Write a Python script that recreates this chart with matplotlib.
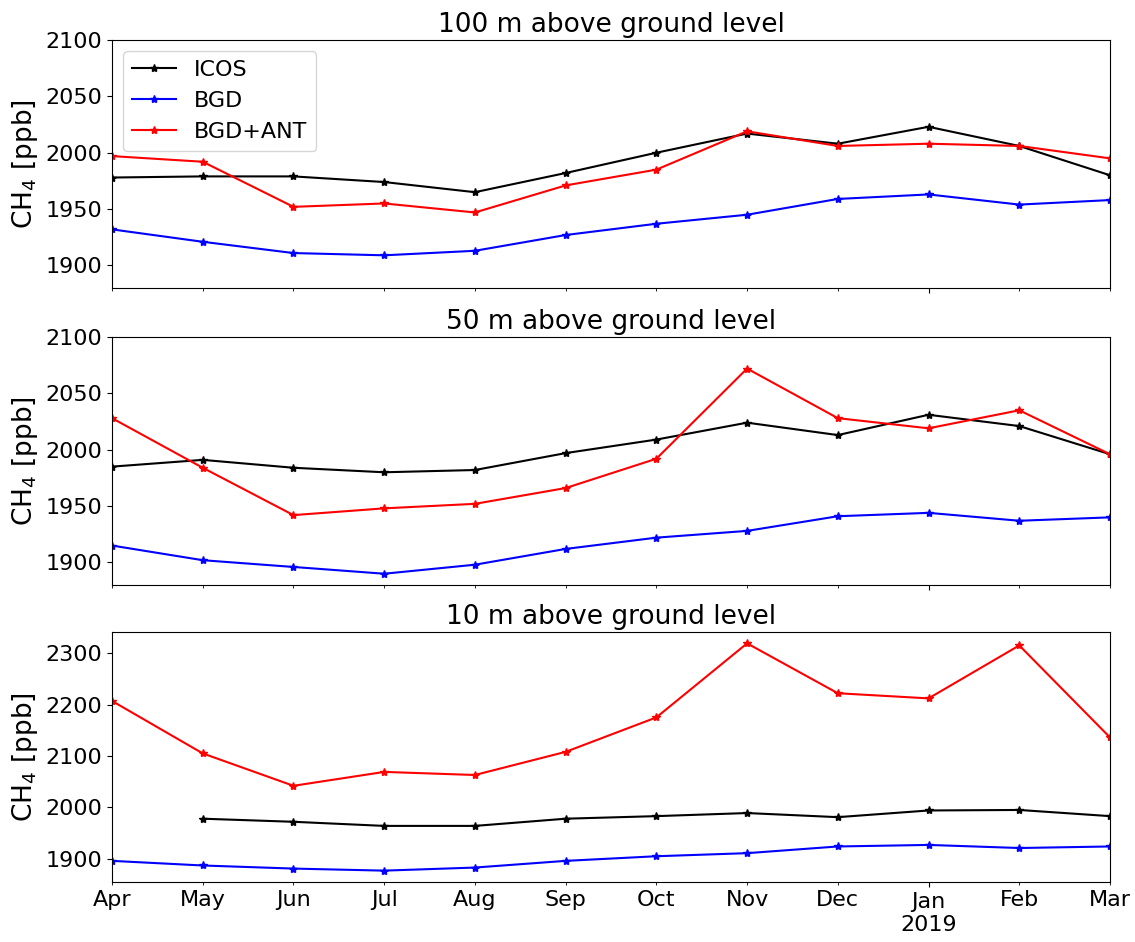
import matplotlib
matplotlib.use("Agg")
import matplotlib.pyplot as plt
from matplotlib.ticker import FixedLocator, FixedFormatter

month_labels = ["Apr", "May", "Jun", "Jul", "Aug", "Sep", "Oct", "Nov", "Dec", "Jan\n2019", "Feb", "Mar"]

titles = ["100 m above ground level", "50 m above ground level", "10 m above ground level"]

# 100 m
icos_100 = [1978, 1979, 1979, 1974, 1965, 1982, 2000, 2017, 2008, 2023, 2006, 1980]
bgd_100 = [1932, 1921, 1911, 1909, 1913, 1927, 1937, 1945, 1959, 1963, 1954, 1958]
ant_100 = [1997, 1992, 1952, 1955, 1947, 1971, 1985, 2019, 2006, 2008, 2006, 1995]

# 50 m
icos_50 = [1985, 1991, 1984, 1980, 1982, 1997, 2009, 2024, 2013, 2031, 2021, 1996]
bgd_50 = [1915, 1902, 1896, 1890, 1898, 1912, 1922, 1928, 1941, 1944, 1937, 1940]
ant_50 = [2028, 1984, 1942, 1948, 1952, 1966, 1992, 2072, 2028, 2019, 2035, 1996]

# 10 m (ICOS missing in April)
icos_10 = [None, 1978, 1972, 1964, 1964, 1978, 1983, 1989, 1981, 1994, 1995, 1983]
bgd_10 = [1896, 1887, 1881, 1877, 1883, 1896, 1905, 1911, 1924, 1927, 1921, 1924]
ant_10 = [2207, 2105, 2042, 2069, 2063, 2108, 2175, 2319, 2222, 2212, 2315, 2136]

series = [
    (icos_100, bgd_100, ant_100),
    (icos_50, bgd_50, ant_50),
    (icos_10, bgd_10, ant_10),
]

fig = plt.figure(figsize=(11.35, 9.42), dpi=100)
W, H = 1135, 942
boxes = [(40, 288), (337, 585), (632, 882)]
left, right = 112, 1110
pos = list(range(len(month_labels)))
jan_idx = 9

for i, ((icos, bgd, ant), (t, b)) in enumerate(zip(series, boxes)):
    ax = fig.add_axes([left / W, 1 - b / H, (right - left) / W, (b - t) / H])
    xs_icos = [p for p, v in zip(pos, icos) if v is not None]
    vs_icos = [v for v in icos if v is not None]
    ax.plot(xs_icos, vs_icos, color="black", marker="*", markersize=6, lw=1.5, label="ICOS")
    ax.plot(pos, bgd, color="blue", marker="*", markersize=6, lw=1.5, label="BGD")
    ax.plot(pos, ant, color="red", marker="*", markersize=6, lw=1.5, label="BGD+ANT")
    ax.set_xlim(pos[0], pos[-1])
    if i < 2:
        ax.set_ylim(1880, 2100)
    ax.set_title(titles[i], fontsize=19)
    ax.set_ylabel("CH$_4$ [ppb]", fontsize=19)
    ax.tick_params(axis="both", which="both", labelsize=16)
    ax.xaxis.set_major_locator(FixedLocator([pos[jan_idx]]))
    ax.xaxis.set_minor_locator(FixedLocator([p for p in pos if p != jan_idx]))
    if i == 2:
        ax.xaxis.set_major_formatter(FixedFormatter([month_labels[jan_idx]]))
        ax.xaxis.set_minor_formatter(FixedFormatter([l for k, l in enumerate(month_labels) if k != jan_idx]))
    else:
        ax.xaxis.set_major_formatter(FixedFormatter([""]))
        ax.xaxis.set_minor_formatter(FixedFormatter([""] * 11))
    if i == 0:
        ax.legend(loc="upper left", fontsize=16)

fig.savefig("out.png", dpi=100)
